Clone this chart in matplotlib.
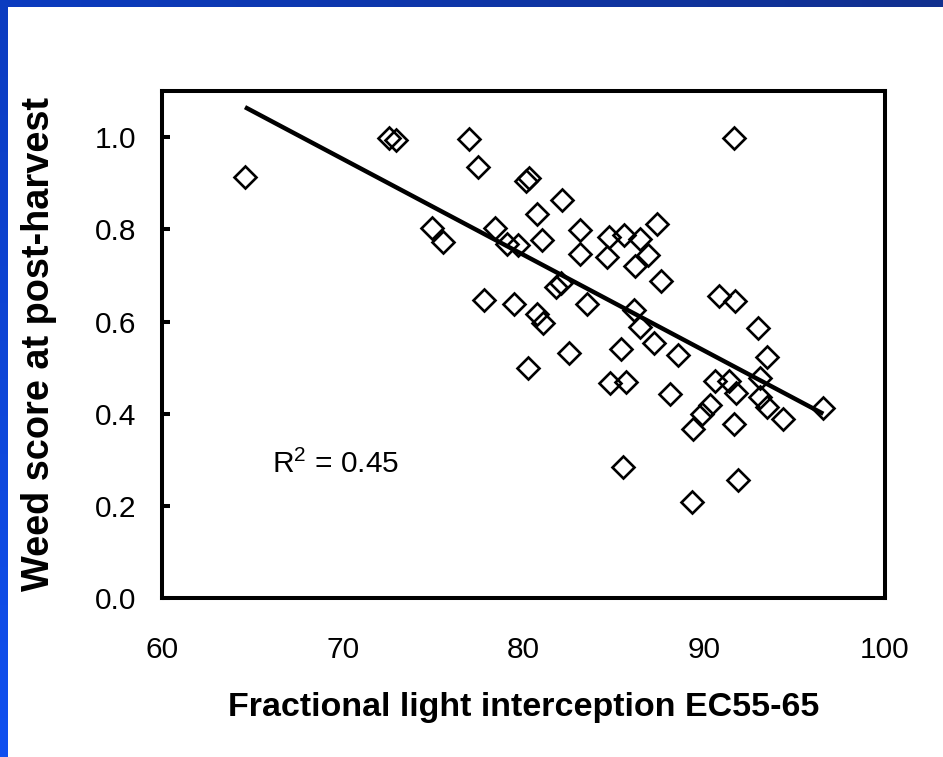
import numpy as np
import matplotlib
matplotlib.use("Agg")
import matplotlib.pyplot as plt
from matplotlib.colors import LinearSegmentedColormap

# ---- data ----
light_interception = [64.58, 72.57, 72.94, 77.00, 77.50, 74.95, 75.57, 78.43, 79.07, 79.72,
                      77.80, 79.48, 80.14, 80.33, 80.74, 81.01, 82.12, 83.15, 83.15, 84.72,
                      85.56, 86.44, 84.61, 86.92, 86.18, 87.42, 87.60, 81.81, 82.08, 80.77,
                      81.10, 83.52, 86.14, 86.46, 87.22, 88.58, 85.41, 82.54, 80.23, 84.80,
                      85.68, 88.10, 89.42, 89.88, 90.36, 85.52, 91.66, 90.85, 91.72, 93.01,
                      93.48, 90.61, 91.40, 91.75, 93.13, 93.10, 93.48, 94.39, 96.61, 91.66,
                      91.86, 89.32]
weed_score = [0.913, 0.998, 0.994, 0.996, 0.935, 0.804, 0.773, 0.804, 0.769, 0.766,
              0.646, 0.639, 0.904, 0.911, 0.834, 0.777, 0.863, 0.798, 0.746, 0.783,
              0.788, 0.779, 0.739, 0.744, 0.720, 0.812, 0.689, 0.675, 0.684, 0.616,
              0.598, 0.639, 0.625, 0.588, 0.554, 0.527, 0.541, 0.531, 0.499, 0.466,
              0.469, 0.442, 0.368, 0.399, 0.420, 0.285, 0.998, 0.656, 0.645, 0.587,
              0.523, 0.472, 0.471, 0.445, 0.478, 0.436, 0.414, 0.389, 0.412, 0.377,
              0.256, 0.209]
fit_x = [64.58, 96.61]
fit_y = [1.065, 0.400]
r_squared = "0.45"
x_ticks = [60, 70, 80, 90, 100]
x_tick_labels = ["60", "70", "80", "90", "100"]
y_ticks = [0.0, 0.2, 0.4, 0.6, 0.8, 1.0]
y_tick_labels = ["0.0", "0.2", "0.4", "0.6", "0.8", "1.0"]
x_label = "Fractional light interception EC55-65"
y_label = "Weed score at post-harvest"

plt.rcParams['font.family'] = ['Liberation Sans', 'DejaVu Sans']
plt.rcParams['mathtext.fontset'] = 'custom'
plt.rcParams['mathtext.rm'] = 'Liberation Sans'
plt.rcParams['mathtext.it'] = 'Liberation Sans:italic'
plt.rcParams['mathtext.bf'] = 'Liberation Sans:bold'

W, H = 943, 757
fig = plt.figure(figsize=(W / 100, H / 100), dpi=100)
fig.patch.set_facecolor('white')

# ---- blue slide frame (top band and left strip) ----
top_band = fig.add_axes([0, 1 - 7 / H, 1, 7 / H])
top_band.imshow(np.linspace(0, 1, 256).reshape(1, -1), aspect='auto',
                cmap=LinearSegmentedColormap.from_list('t', ['#0b3cc0', '#12308f']))
top_band.axis('off')
left_strip = fig.add_axes([0, 0, 8 / W, 1])
left_strip.imshow(np.linspace(0, 1, 256).reshape(-1, 1), aspect='auto', origin='lower',
                  cmap=LinearSegmentedColormap.from_list('l', ['#1050f0', '#0b3cc0']))
left_strip.axis('off')

# ---- main axes ----
ax = fig.add_axes([162.3 / W, 1 - 598.3 / H, (884.5 - 162.3) / W, (598.3 - 91) / H])
ax.plot(fit_x, fit_y, color='black', lw=3.2, solid_capstyle='butt', zorder=2)
ax.plot(light_interception, weed_score, linestyle='none', marker='D', ms=11.5,
        mfc='none', mec='black', mew=1.9, zorder=3)

ax.set_xlim(60, 100)
ax.set_ylim(0, 1.1)
ax.set_xticks(x_ticks)
ax.set_xticklabels(x_tick_labels)
ax.set_yticks(y_ticks)
ax.set_yticklabels(y_tick_labels)
for s in ax.spines.values():
    s.set_linewidth(2.9)
    s.set_color('black')
ax.tick_params(axis='y', direction='in', length=5.8, width=2.9, pad=18.4,
               labelsize=21.5, colors='black')
ax.tick_params(axis='x', length=0, pad=27.5, labelsize=21.5, colors='black')

ax.set_xlabel(x_label, fontsize=24.5, fontweight='bold', va='center')
ax.xaxis.set_label_coords(0.5007, -0.2143)
ax.set_ylabel(y_label, fontsize=27.3, fontweight='bold', va='center', ha='center')
ax.yaxis.set_label_coords(-0.1707, 0.502)

ax.text(66.08, 0.271, 'R$^{\\mathrm{2}}$ = ' + r_squared, fontsize=21.5,
        ha='left', va='baseline')

fig.savefig('out.png', dpi=100)
